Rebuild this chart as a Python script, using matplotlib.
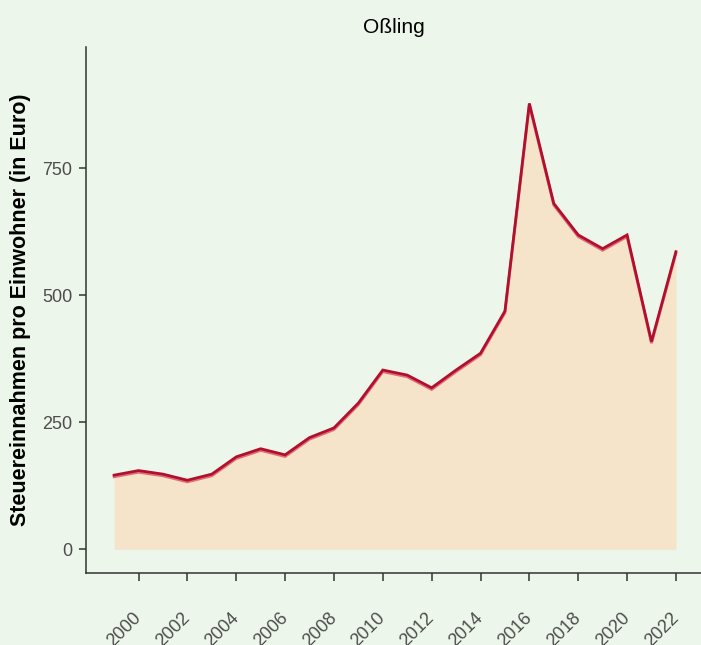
import matplotlib.pyplot as plt
import matplotlib.patheffects as pe
import matplotlib.transforms as mtransforms
import numpy as np

plt.rcParams['font.family'] = ['Liberation Sans', 'DejaVu Sans']

# Steuereinnahmen pro Einwohner, Oßling
years = list(range(1999, 2023))
values = [146, 155, 148, 136, 148, 182, 198, 186, 220, 239, 288, 353,
          343, 318, 353, 386, 469, 878, 681, 619, 592, 619, 409, 586]
xticks = list(range(2000, 2023, 2))
yticks = [0, 250, 500, 750]

bg = '#EDF6EA'
fill_col = '#F5E3CA'
line_col = '#B0102E'
axis_col = '#333333'

fig = plt.figure(figsize=(7.01, 6.45), dpi=100, facecolor=bg)
ax = fig.add_axes([0.1227, 0.1116, 0.8816, 0.8155])
ax.set_facecolor(bg)

ax.fill_between(years, 0, values, color=fill_col, linewidth=0)
ax.plot(years, values, color=line_col, linewidth=2.0, solid_joinstyle='miter',
        path_effects=[pe.SimpleLineShadow(offset=(0, -1.2), shadow_color='#E0606E', alpha=0.9),
                      pe.Normal()])

ax.set_xlim(1997.85, 2023.15)
ax.set_ylim(-46.7, 989)
ax.set_xticks(xticks)
ax.set_xticklabels([str(x) for x in xticks], rotation=45, ha='right', va='center',
                   rotation_mode='anchor')
ax.set_yticks(yticks)

# shift the rotated labels a bit to the right
shift = mtransforms.ScaledTranslation(3 / 100, 0, fig.dpi_scale_trans)
for lab in ax.get_xticklabels():
    lab.set_transform(lab.get_transform() + shift)

for s in ['top', 'right']:
    ax.spines[s].set_visible(False)
for s in ['left', 'bottom']:
    ax.spines[s].set_color(axis_col)
    ax.spines[s].set_linewidth(1.1)

ax.tick_params(axis='both', colors=axis_col, length=5.4, width=1.1,
               labelsize=13, labelcolor='#4D4D4D')
ax.tick_params(axis='x', pad=25)
ax.tick_params(axis='y', pad=4.4)

ax.set_ylabel('Steuereinnahmen pro Einwohner (in Euro)', fontsize=15.5,
              fontweight='bold', color='black', labelpad=8)
fig.text(0.562, 0.958, 'Oßling', ha='center', va='center', fontsize=15, color='black')

fig.savefig('out.png', dpi=100, facecolor=bg)
